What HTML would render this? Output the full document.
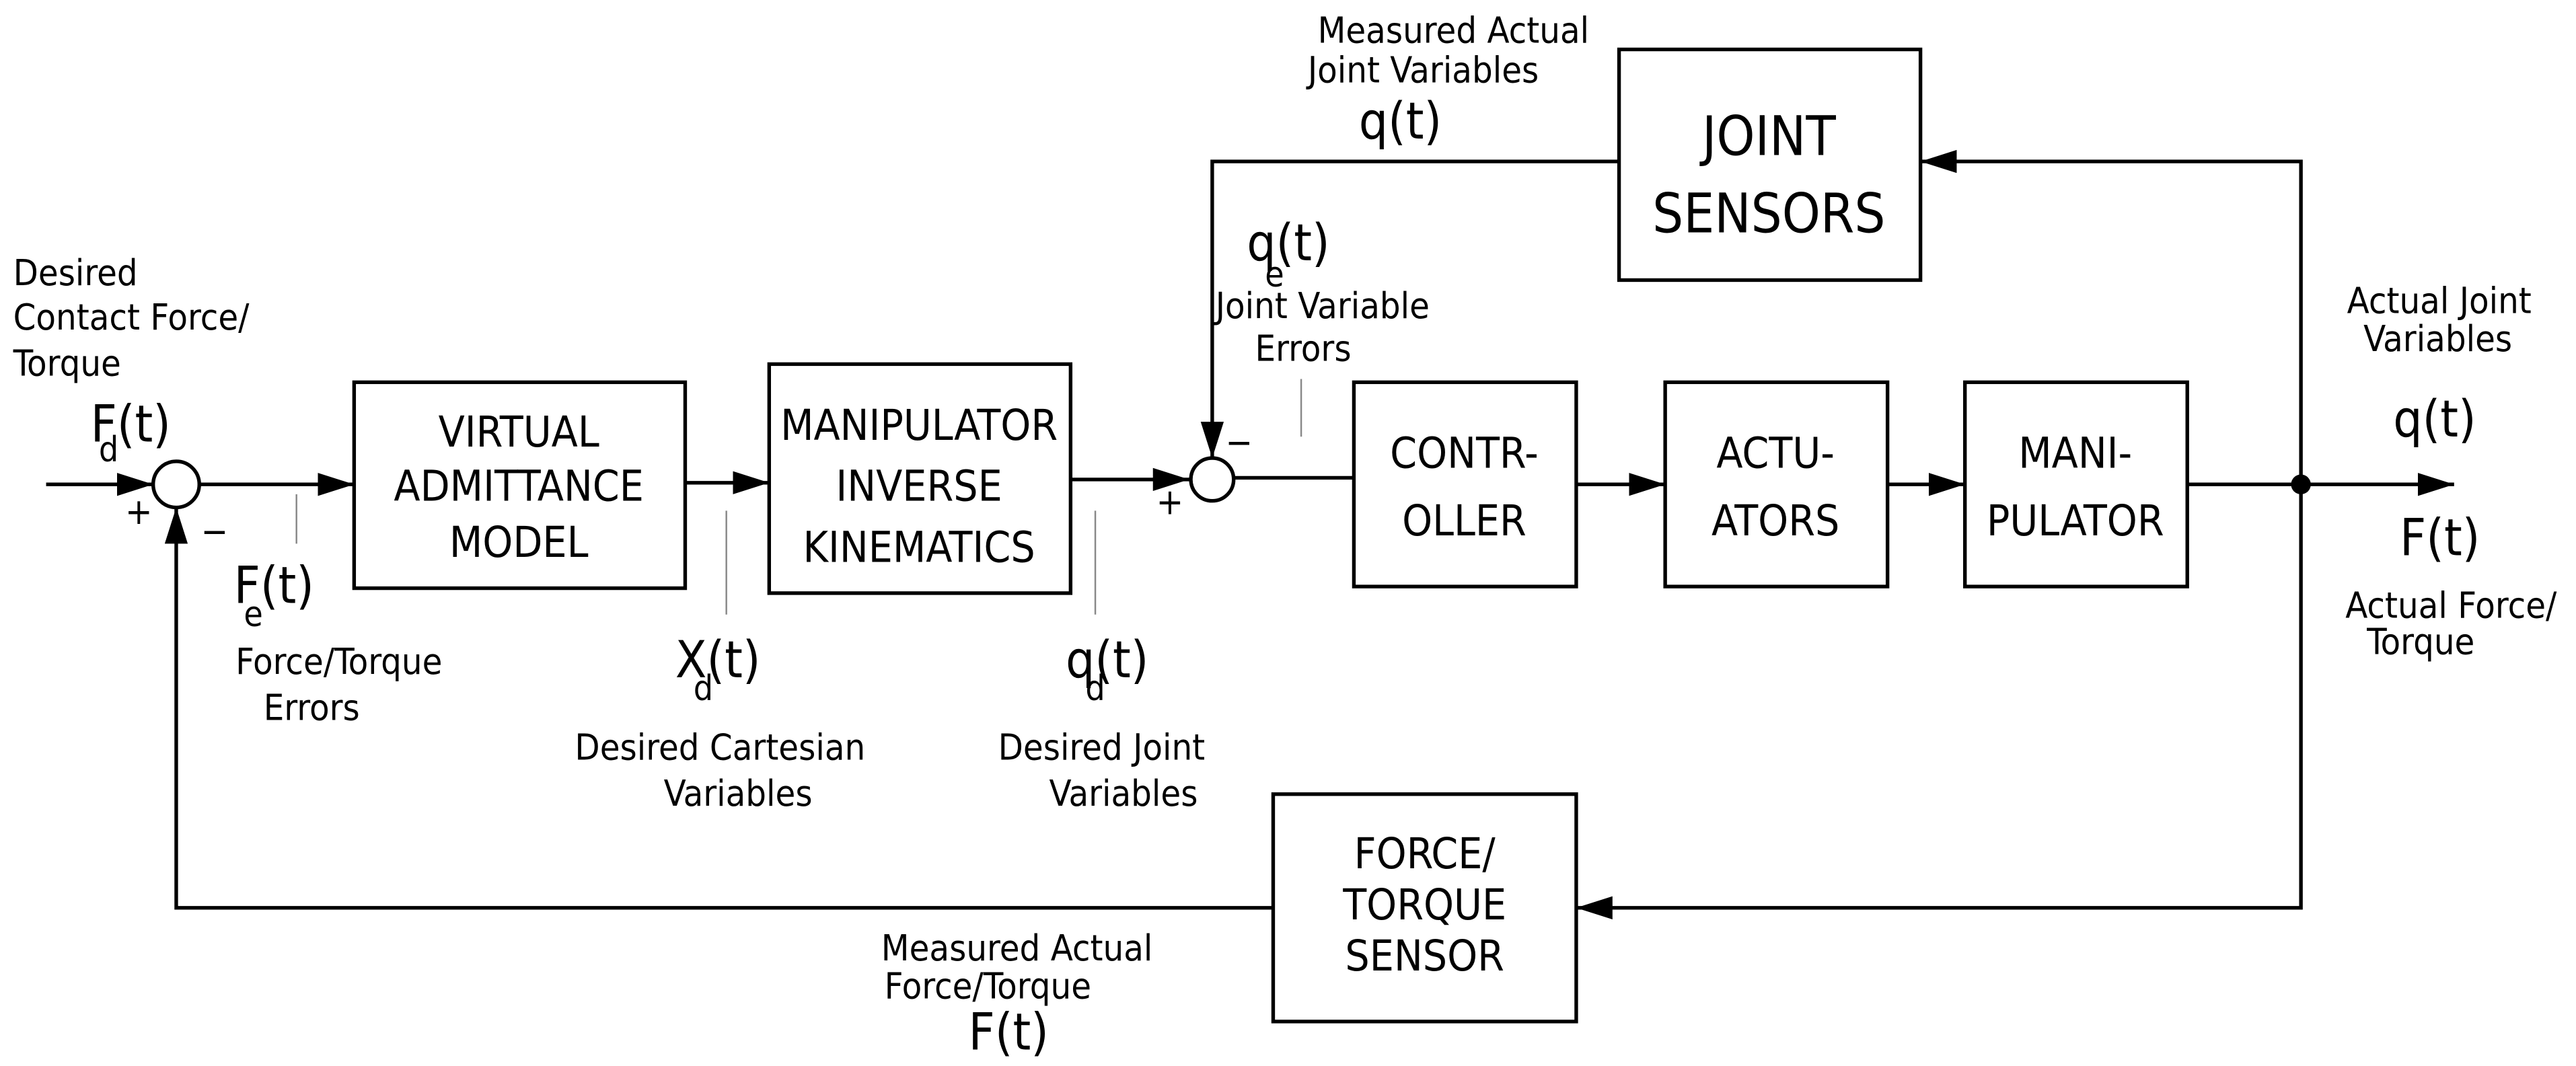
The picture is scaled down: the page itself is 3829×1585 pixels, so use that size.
<!DOCTYPE html>
<html><head><meta charset="utf-8"><style>
html,body{margin:0;padding:0;background:#fff;}
svg{display:block;}
text{font-family:"DejaVu Sans Condensed","DejaVu Sans","Liberation Sans",sans-serif;font-stretch:condensed;fill:#000;}
.b{font-size:26px;text-anchor:middle;}
.s{font-size:22px;}
.f{font-size:31px;}
.u{font-size:21px;}
</style></head><body>
<svg width="3829" height="1585" viewBox="0 0 1564 647" preserveAspectRatio="none" xmlns="http://www.w3.org/2000/svg">
<defs>
<marker id="A" markerWidth="22" markerHeight="14" refX="22" refY="7" orient="auto" markerUnits="userSpaceOnUse"><path d="M0,0 L22,7 L0,14 z" fill="#000"/></marker></defs>
<g stroke="#000" stroke-width="2.2" fill="none">
<line x1="28" y1="294" x2="93" y2="294" marker-end="url(#A)"/>
<ellipse cx="107" cy="294" rx="14" ry="14" fill="#fff"/>
<line x1="121" y1="294" x2="215" y2="294" marker-end="url(#A)"/>
<rect x="215" y="232" width="201" height="125"/>
<line x1="416" y1="293" x2="467" y2="293" marker-end="url(#A)"/>
<rect x="467" y="221" width="183" height="139"/>
<line x1="650" y1="291" x2="722" y2="291" marker-end="url(#A)"/>
<ellipse cx="736" cy="291" rx="13" ry="13" fill="#fff"/>
<line x1="749" y1="290" x2="822" y2="290"/>
<rect x="822" y="232" width="135" height="124"/>
<line x1="957" y1="294" x2="1011" y2="294" marker-end="url(#A)"/>
<rect x="1011" y="232" width="135" height="124"/>
<line x1="1146" y1="294" x2="1193" y2="294" marker-end="url(#A)"/>
<rect x="1193" y="232" width="135" height="124"/>
<line x1="1328" y1="294" x2="1490" y2="294" marker-end="url(#A)"/>
<polyline points="1397,294 1397,98 1166,98" marker-end="url(#A)"/>
<rect x="983" y="30" width="183" height="140"/>
<polyline points="983,98 736,98 736,278" marker-end="url(#A)"/>
<polyline points="1397,294 1397,551 957,551" marker-end="url(#A)"/>
<rect x="773" y="482" width="184" height="138"/>
<polyline points="773,551 107,551 107,308" marker-end="url(#A)"/>
</g>
<circle cx="1397" cy="294" r="6" fill="#000"/>
<g stroke="#888" stroke-width="1">
<line x1="180" y1="300" x2="180" y2="330"/>
<line x1="441" y1="310" x2="441" y2="373"/>
<line x1="665" y1="310" x2="665" y2="373"/>
<line x1="790" y1="230" x2="790" y2="265"/>
</g>
<g class="b">
<text x="315" y="271">VIRTUAL</text><text x="315" y="304">ADMITTANCE</text><text x="315" y="338">MODEL</text>
<text x="558" y="267">MANIPULATOR</text><text x="558" y="304">INVERSE</text><text x="558" y="341">KINEMATICS</text>
<text x="889" y="284">CONTR-</text><text x="889" y="325">OLLER</text>
<text x="1078" y="284">ACTU-</text><text x="1078" y="325">ATORS</text>
<text x="1260" y="284">MANI-</text><text x="1260" y="325">PULATOR</text>
<text x="865" y="527">FORCE/</text><text x="865" y="558">TORQUE</text><text x="865" y="589">SENSOR</text>
<text x="1074" y="94" style="font-size:33px">JOINT</text><text x="1074" y="141" style="font-size:33px">SENSORS</text>
</g>
<g class="s" xml:space="preserve">
<text x="8" y="173">Desired</text><text x="8" y="200">Contact Force/</text><text x="8" y="228">Torque</text>
<text x="143" y="409">Force/Torque</text><text x="160" y="437">Errors</text>
<text x="349" y="461">Desired Cartesian</text><text x="403" y="489">Variables</text>
<text x="606" y="461">Desired Joint</text><text x="637" y="489">Variables</text>
<text x="800" y="26">Measured Actual</text><text x="794" y="50">Joint Variables</text>
<text x="738" y="193">Joint  Variable</text><text x="762" y="219">Errors</text>
<text x="1425" y="190">Actual Joint</text><text x="1435" y="213">Variables</text>
<text x="1424" y="375">Actual Force/</text><text x="1437" y="397">Torque</text>
<text x="535" y="583">Measured Actual</text><text x="537" y="606">Force/Torque</text>
</g>
<g class="f">
<text x="55" y="268">F(t)</text><text x="60" y="280" class="u">d</text>
<text x="142" y="366">F(t)</text><text x="148" y="380" class="u">e</text>
<text x="410" y="411">X(t)</text><text x="421" y="425" class="u">d</text>
<text x="647" y="411">q(t)</text><text x="659" y="425" class="u">d</text>
<text x="757" y="158">q(t)</text><text x="768" y="174" class="u">e</text>
<text x="825" y="84">q(t)</text>
<text x="1453" y="265">q(t)</text>
<text x="1457" y="337">F(t)</text>
<text x="588" y="637">F(t)</text>
<text x="76" y="318" style="font-size:22px">+</text>
<text x="122" y="330" style="font-size:22px">−</text>
<text x="702" y="312" style="font-size:22px">+</text>
<text x="744" y="276" style="font-size:22px">−</text>
</g>
</svg>
</body></html>
